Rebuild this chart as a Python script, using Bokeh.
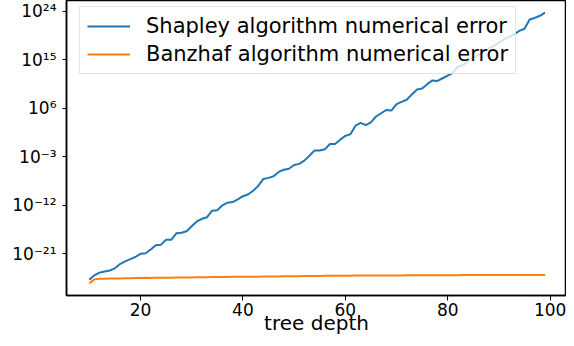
from bokeh.plotting import figure
from bokeh.models import Range1d, FixedTicker
from bokeh.embed import file_html
from bokeh.resources import INLINE

# ---- data ----
tree_depth = list(range(10, 100))

# log10 of the Shapley algorithm numerical error, one value per tree depth 10..99
shapley_log10_error = [
    -25.8, -25.0, -24.5, -24.3, -24.1, -23.7, -22.9, -22.4, -22.0, -21.6,   # 10-19
    -21.0, -20.9, -20.2, -19.4, -19.3, -18.4, -18.4, -17.2, -17.1, -16.8,   # 20-29
    -15.9, -15.0, -14.5, -14.2, -13.0, -12.9, -12.0, -11.5, -11.4, -10.9,   # 30-39
    -10.3, -10.0, -9.3, -8.4, -7.1, -6.9, -6.6, -5.8, -5.4, -5.2,           # 40-49
    -4.5, -4.3, -3.7, -2.8, -1.8, -1.8, -1.6, -0.6, -0.6, 0.2,              # 50-59
    0.9, 1.2, 2.8, 3.3, 2.9, 3.4, 4.5, 5.1, 5.7, 5.6,                       # 60-69
    6.8, 7.2, 7.6, 8.6, 9.5, 9.7, 10.5, 11.2, 11.1, 11.6,                   # 70-79
    12.1, 12.6, 13.8, 14.0, 14.8, 15.5, 15.9, 16.6, 17.1, 17.6,             # 80-89
    18.2, 18.8, 19.3, 19.8, 20.4, 20.8, 22.5, 22.8, 23.2, 23.8,             # 90-99
]

# log10 of the Banzhaf algorithm numerical error, one value per tree depth 10..99
banzhaf_log10_error = [
    -26.5, -25.75, -25.65, -25.62, -25.6, -25.58, -25.6, -25.55, -25.52, -25.5,   # 10-19
    -25.48, -25.47, -25.5, -25.46, -25.45, -25.44, -25.46, -25.42, -25.4, -25.4,  # 20-29
    -25.38, -25.36, -25.37, -25.34, -25.33, -25.32, -25.3, -25.3, -25.28, -25.27, # 30-39
    -25.26, -25.25, -25.24, -25.24, -25.22, -25.21, -25.2, -25.2, -25.19, -25.18, # 40-49
    -25.16, -25.15, -25.14, -25.13, -25.12, -25.11, -25.1, -25.09, -25.08, -25.07,# 50-59
    -25.06, -25.06, -25.05, -25.05, -25.04, -25.04, -25.03, -25.03, -25.02, -25.02,# 60-69
    -25.01, -25.01, -25.0, -25.0, -25.0, -24.99, -24.99, -24.98, -24.98, -24.98,  # 70-79
    -24.97, -24.97, -24.97, -24.96, -24.96, -24.96, -24.96, -24.95, -24.95, -24.95,# 80-89
    -24.95, -24.94, -24.94, -24.94, -24.94, -24.93, -24.93, -24.93, -24.93, -24.92,# 90-99
]

x_ticks = [20, 40, 60, 80, 100]
y_tick_exponents = [-21, -12, -3, 6, 15, 24]
y_tick_labels = ["10\u207b\u00b2\u00b9", "10\u207b\u00b9\u00b2", "10\u207b\u00b3",
                 "10\u2076", "10\u00b9\u2075", "10\u00b2\u2074"]
x_label = "tree depth"

series_names = ["Shapley algorithm numerical error", "Banzhaf algorithm numerical error"]
series_colors = ["#1f77b4", "#ff7f0e"]

# ---- figure ----
FONT = "DejaVu Sans"

shapley = [10.0 ** v for v in shapley_log10_error]
banzhaf = [10.0 ** v for v in banzhaf_log10_error]
y_tick_values = [10.0 ** e for e in y_tick_exponents]

p = figure(
    width=566, height=338,
    y_axis_type="log",
    x_range=Range1d(5.55, 103.2),
    y_range=Range1d(10.0 ** -28.745, 10.0 ** 26.04),
    output_backend="svg", toolbar_location=None,
    min_border_left=66, min_border_right=0, min_border_top=0, min_border_bottom=43,
)
p.background_fill_color = "white"
p.border_fill_color = "white"
p.outline_line_color = "black"
p.outline_line_width = 1.5
p.xgrid.visible = False
p.ygrid.visible = False

p.line(tree_depth, shapley, line_color=series_colors[0], line_width=2, legend_label=series_names[0])
p.line(tree_depth, banzhaf, line_color=series_colors[1], line_width=2, legend_label=series_names[1])

# axes
p.xaxis.ticker = FixedTicker(ticks=x_ticks)
p.yaxis.ticker = FixedTicker(ticks=y_tick_values)
p.yaxis.major_label_overrides = {v: lab for v, lab in zip(y_tick_values, y_tick_labels)}

for ax in (p.xaxis, p.yaxis):
    ax.axis_line_color = "black"
    ax.axis_line_width = 1.5
    ax.major_tick_line_color = "black"
    ax.major_tick_line_width = 1
    ax.major_tick_in = 0
    ax.major_tick_out = 5
    ax.minor_tick_line_color = None
    ax.major_label_text_font = FONT
    ax.major_label_text_font_size = "17px"
    ax.major_label_text_color = "black"

p.yaxis.major_tick_out = 4
p.yaxis.major_label_standoff = 6
p.xaxis.major_label_standoff = 2

p.xaxis.axis_label = x_label
p.xaxis.axis_label_text_font = FONT
p.xaxis.axis_label_text_font_size = "20px"
p.xaxis.axis_label_text_font_style = "normal"
p.xaxis.axis_label_text_color = "black"
p.xaxis.axis_label_standoff = -8

# legend
lg = p.legend[0]
lg.location = (13, 221)
lg.label_text_font = FONT
lg.label_text_font_size = "21px"
lg.label_text_color = "black"
lg.glyph_width = 43
lg.label_standoff = 16
lg.padding = 7
lg.spacing = 4
lg.margin = 0
lg.border_line_color = "#cccccc"
lg.border_line_width = 1
lg.background_fill_color = "white"
lg.background_fill_alpha = 0.8

open("out.html", "w").write(file_html(p, INLINE))
